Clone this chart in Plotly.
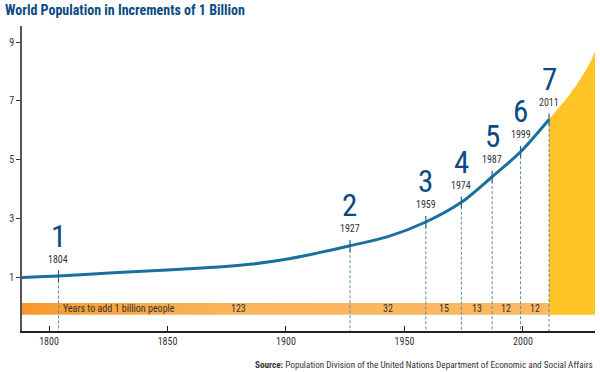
import plotly.graph_objects as go

# ---- data ----
curve_years = [1788, 1804, 1829, 1850, 1873, 1886, 1900, 1913, 1927, 1943, 1959,
               1974, 1987, 1999, 2011]
curve_values = [0.99, 1.04, 1.16, 1.25, 1.36, 1.45, 1.61, 1.82, 2.07, 2.38, 2.88,
                3.55, 4.42, 5.27, 6.37]

proj_years = [2011, 2015, 2019, 2027, 2031]
proj_values = [6.37, 6.76, 7.14, 8.11, 8.80]

event_numbers = ["1", "2", "3", "4", "5", "6", "7"]
event_years = [1804, 1927, 1959, 1974, 1987, 1999, 2011]
event_values = [1.04, 2.07, 2.88, 3.55, 4.42, 5.27, 6.37]

years_to_add = ["123", "32", "15", "13", "12", "12"]
bar_label = "Years to add 1 billion people"

x_ticks = [1800, 1850, 1900, 1950, 2000]
y_ticks = [1, 3, 5, 7, 9]

title_text = "World Population in Increments of 1 Billion"
source_text = ("<b>Source:</b> Population Division of the United Nations "
               "Department of Economic and Social Affairs")

# ---- styling ----
FONT = "Roboto Condensed, Liberation Sans Narrow, Roboto, sans-serif"
NAVY = "#0c4a84"
LINE = "#17709e"
TXT = "#333333"
X_MIN, X_MAX = 1788.6, 2030.4
Y_MIN, Y_MAX = -0.83, 9.55
BAR_LO, BAR_HI = -0.28, 0.12

fig = go.Figure()

# projection (yellow area)
fig.add_trace(go.Scatter(x=[proj_years[0], proj_years[-1]], y=[BAR_LO, BAR_LO],
                         mode="lines", line=dict(width=0), hoverinfo="skip",
                         showlegend=False))
fig.add_trace(go.Scatter(x=proj_years, y=proj_values, mode="lines",
                         line=dict(width=0, shape="spline"), fill="tonexty",
                         fillcolor="#fec326", hoverinfo="skip", showlegend=False))

# orange "years to add" bar with gradient
fig.add_trace(go.Scatter(
    x=[X_MIN, event_years[-1], event_years[-1], X_MIN, X_MIN],
    y=[BAR_LO, BAR_LO, BAR_HI, BAR_HI, BAR_LO],
    mode="lines", line=dict(width=0), fill="toself",
    fillgradient=dict(type="horizontal",
                      colorscale=[[0, "#f5992d"], [0.4, "#fab55c"], [1, "#fbb962"]]),
    hoverinfo="skip", showlegend=False))

# event lines (dashed, down to the axis)
for yr, v in zip(event_years, event_values):
    fig.add_trace(go.Scatter(x=[yr, yr], y=[v - 0.15, Y_MIN], mode="lines",
                             line=dict(color="#5b8ab3", width=1, dash="3px,2px"),
                             hoverinfo="skip", showlegend=False))

# population curve
fig.add_trace(go.Scatter(x=curve_years, y=curve_values, mode="lines",
                         line=dict(color=LINE, width=3, shape="spline", smoothing=0.8),
                         hoverinfo="skip", showlegend=False))

# short solid ticks at each event
for yr, v in zip(event_years, event_values):
    fig.add_trace(go.Scatter(x=[yr, yr], y=[v + 0.2, v - 0.2], mode="lines",
                             line=dict(color="#2a5f8c", width=1.2),
                             hoverinfo="skip", showlegend=False))

annotations = []
for num, yr, v in zip(event_numbers, event_years, event_values):
    annotations.append(dict(x=yr, y=v, text=str(yr), showarrow=False, yshift=17,
                            font=dict(family=FONT, size=10, color=TXT)))
    annotations.append(dict(x=yr, y=v, text=num, showarrow=False, yshift=40,
                            font=dict(family=FONT, size=31, color=NAVY)))

# bar labels
annotations.append(dict(x=event_years[0], y=(BAR_LO + BAR_HI) / 2, text=bar_label,
                        showarrow=False, xanchor="left", xshift=3,
                        font=dict(family=FONT, size=10, color=TXT)))
label_x = [1880] + [(a + b) / 2 for a, b in zip(event_years[1:-1], event_years[2:])]
for lx, t in zip(label_x, years_to_add):
    annotations.append(dict(x=lx, y=(BAR_LO + BAR_HI) / 2, text=t, showarrow=False,
                            font=dict(family=FONT, size=10, color=TXT)))

annotations.append(dict(xref="paper", yref="paper", x=1, y=0, yshift=-33,
                        xanchor="right", yanchor="middle", text=source_text,
                        showarrow=False, font=dict(family=FONT, size=9.2, color=TXT)))

fig.update_layout(
    width=600, height=372,
    margin=dict(l=22, r=5, t=26, b=41, autoexpand=False),
    paper_bgcolor="white", plot_bgcolor="white",
    title=dict(text=title_text, x=5 / 600, xanchor="left", xref="container",
               y=1 - 10 / 372, yanchor="middle", yref="container",
               font=dict(family=FONT, size=14, color=NAVY, weight=700)),
    xaxis=dict(range=[X_MIN, X_MAX], tickvals=x_ticks, ticks="inside", ticklen=5,
               tickcolor="#222", showline=True, linecolor="#222", linewidth=1.5,
               showgrid=False, zeroline=False, automargin=False,
               tickfont=dict(family=FONT, size=10, color=TXT)),
    yaxis=dict(range=[Y_MIN, Y_MAX], tickvals=y_ticks, ticks="outside", ticklen=4,
               tickcolor="#333", showline=True, linecolor="#555", linewidth=1.5,
               showgrid=False, zeroline=False, automargin=False,
               tickfont=dict(family=FONT, size=10, color=TXT)),
    annotations=annotations,
    showlegend=False,
)

fig.write_html("out.html", config={"displayModeBar": False},
               post_script="document.body.style.margin='0';"
                           "document.body.style.padding='0';")
